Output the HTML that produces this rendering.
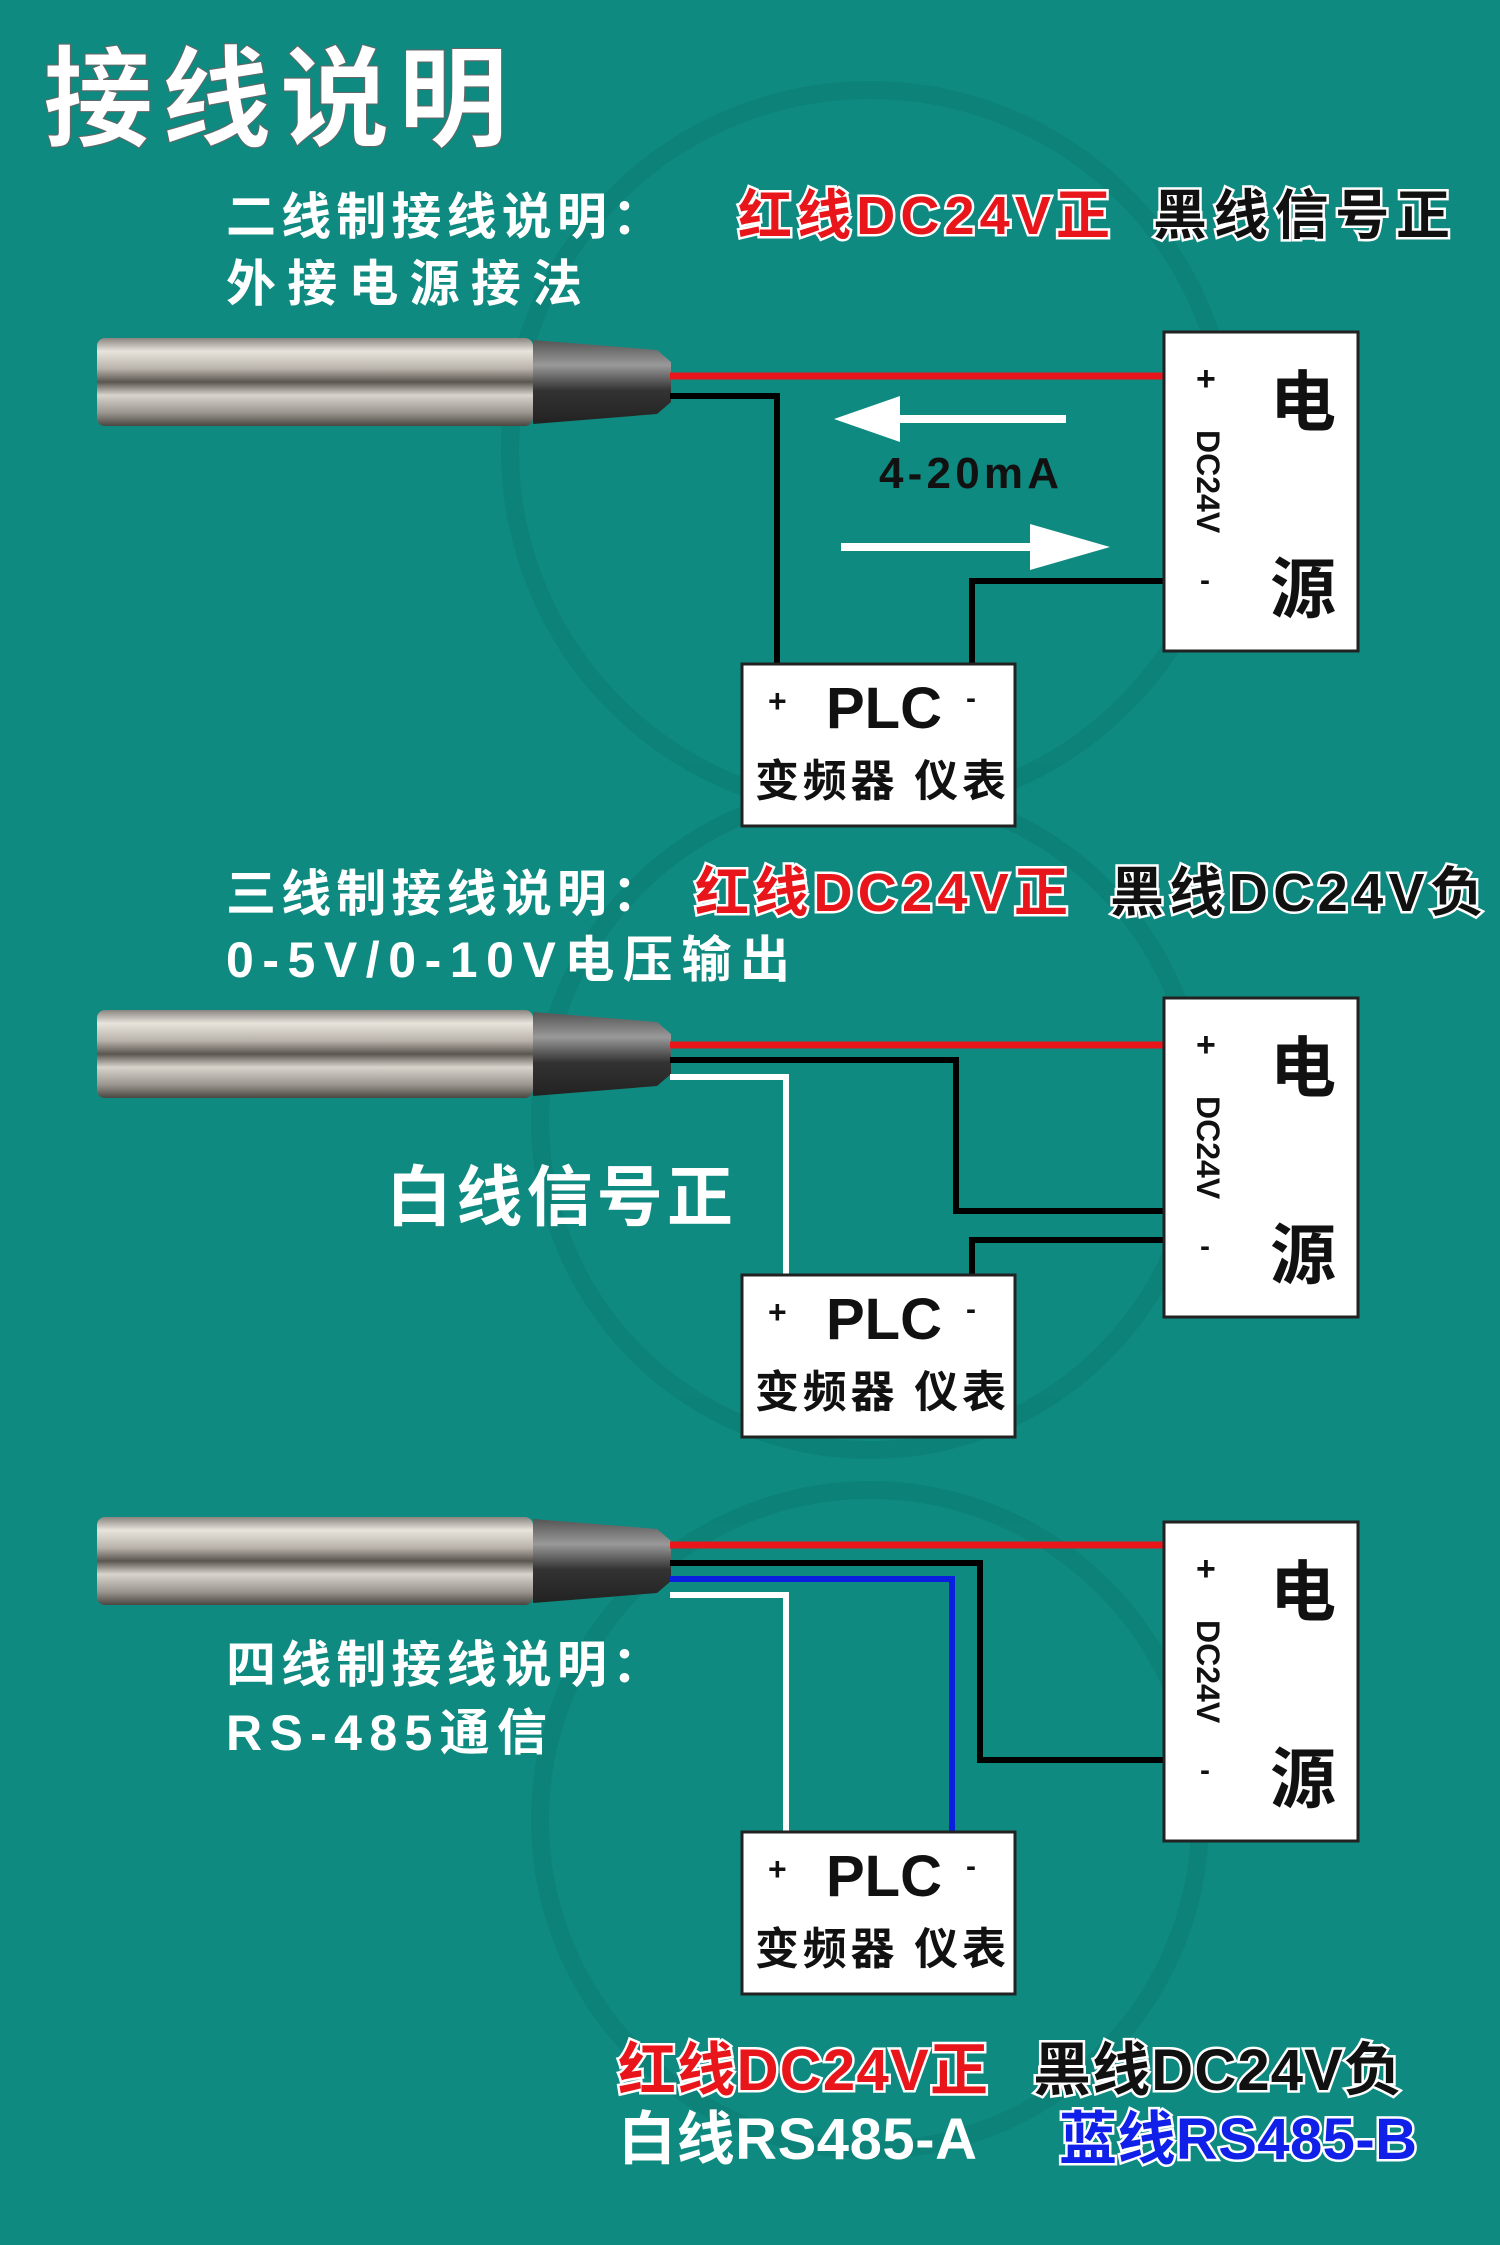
<!DOCTYPE html>
<html><head><meta charset="utf-8"><style>
html,body{margin:0;padding:0;background:#0f8a80;}
svg{display:block}
text{font-family:"Liberation Sans","Noto Sans CJK SC",sans-serif;font-weight:bold}
</style></head><body>
<svg width="1500" height="2245" viewBox="0 0 1500 2245" xmlns="http://www.w3.org/2000/svg">
<defs>
<linearGradient id="metal" x1="0" y1="0" x2="0" y2="1">
<stop offset="0" stop-color="#8a8580"/><stop offset="0.15" stop-color="#e8e4dc"/><stop offset="0.35" stop-color="#b8b2aa"/><stop offset="0.5" stop-color="#5a5550"/><stop offset="0.65" stop-color="#d8d4cc"/><stop offset="0.85" stop-color="#9a958e"/><stop offset="1" stop-color="#4a4642"/>
</linearGradient>
<linearGradient id="cone" x1="0" y1="0" x2="0" y2="1">
<stop offset="0" stop-color="#555"/><stop offset="0.3" stop-color="#999"/><stop offset="0.6" stop-color="#333"/><stop offset="1" stop-color="#222"/>
</linearGradient>
<g id="probe">
<rect x="0" y="0" width="436" height="88" rx="8" fill="url(#metal)"/>
<polygon points="436,2 560,12 574,24 574,64 560,76 436,86" fill="url(#cone)"/>
</g>
</defs>
<rect width="1500" height="2245" fill="#0f8a80"/>
<g fill="none" stroke="#0c8077" stroke-width="18" opacity="0.8">
<circle cx="870" cy="450" r="360"/>
<circle cx="870" cy="1120" r="330"/>
<circle cx="870" cy="1820" r="330"/>
</g>
<text x="43" y="138" font-size="110" fill="#fff" stroke="#666" stroke-width="1" textLength="465" lengthAdjust="spacing">接线说明</text>

<!-- Section 1 -->
<text x="226" y="234" font-size="50" fill="#fff" textLength="436" lengthAdjust="spacing">二线制接线说明：</text>
<text x="226" y="301" font-size="50" fill="#fff" textLength="356" lengthAdjust="spacing">外接电源接法</text>
<text x="738" y="234" font-size="54" fill="#e8161a" stroke="#fff" stroke-width="5" paint-order="stroke" textLength="372" lengthAdjust="spacing">红线DC24V正</text>
<text x="1153" y="234" font-size="54" fill="#111" stroke="#fff" stroke-width="5" paint-order="stroke" textLength="297" lengthAdjust="spacing">黑线信号正</text>
<use href="#probe" x="97" y="338"/>
<polyline points="670,376 1163,376" stroke="#e8161a" stroke-width="7" fill="none"/>
<polyline points="670,396 777,396 777,663" stroke="#000" stroke-width="6" fill="none"/>
<polyline points="1163,581 972,581 972,663" stroke="#000" stroke-width="6" fill="none"/>
<line x1="1066" y1="419" x2="900" y2="419" stroke="#fff" stroke-width="8"/>
<polygon points="834,419 900,396 900,442" fill="#fff"/>
<line x1="841" y1="547" x2="1040" y2="547" stroke="#fff" stroke-width="8"/>
<polygon points="1110,547 1030,524 1030,570" fill="#fff"/>
<text x="879" y="488" font-size="44" fill="#111" textLength="180" lengthAdjust="spacing">4-20mA</text>

<!-- Section 2 -->
<text x="226" y="911" font-size="50" fill="#fff" textLength="436" lengthAdjust="spacing">三线制接线说明：</text>
<text x="226" y="977" font-size="50" fill="#fff" textLength="564" lengthAdjust="spacing">0-5V/0-10V电压输出</text>
<text x="695" y="911" font-size="54" fill="#e8161a" stroke="#fff" stroke-width="5" paint-order="stroke" textLength="373" lengthAdjust="spacing">红线DC24V正</text>
<text x="1110" y="911" font-size="54" fill="#111" stroke="#fff" stroke-width="5" paint-order="stroke" textLength="374" lengthAdjust="spacing">黑线DC24V负</text>
<use href="#probe" x="97" y="1010"/>
<polyline points="670,1045 1163,1045" stroke="#e8161a" stroke-width="7" fill="none"/>
<polyline points="670,1060 956,1060 956,1211 1163,1211" stroke="#000" stroke-width="6" fill="none"/>
<polyline points="1163,1240 972,1240 972,1275" stroke="#000" stroke-width="6" fill="none"/>
<polyline points="670,1077 786,1077 786,1275" stroke="#fff" stroke-width="6" fill="none"/>
<text x="386" y="1220" font-size="66" fill="#fff" textLength="347" lengthAdjust="spacing">白线信号正</text>

<!-- Section 3 -->
<use href="#probe" x="97" y="1517"/>
<polyline points="670,1545 1163,1545" stroke="#e8161a" stroke-width="7" fill="none"/>
<polyline points="670,1563 980,1563 980,1760 1163,1760" stroke="#000" stroke-width="6" fill="none"/>
<polyline points="670,1579 952,1579 952,1832" stroke="#0a1ee0" stroke-width="6" fill="none"/>
<polyline points="670,1595 786,1595 786,1832" stroke="#fff" stroke-width="6" fill="none"/>
<text x="226" y="1682" font-size="50" fill="#fff" textLength="436" lengthAdjust="spacing">四线制接线说明：</text>
<text x="226" y="1750" font-size="50" fill="#fff" textLength="321" lengthAdjust="spacing">RS-485通信</text>
<text x="618" y="2090" font-size="58" fill="#e8161a" stroke="#fff" stroke-width="5" paint-order="stroke" textLength="370" lengthAdjust="spacing">红线DC24V正</text>
<text x="1033" y="2090" font-size="58" fill="#111" stroke="#fff" stroke-width="5" paint-order="stroke" textLength="369" lengthAdjust="spacing">黑线DC24V负</text>
<text x="618" y="2159" font-size="58" fill="#fff" textLength="359" lengthAdjust="spacing">白线RS485-A</text>
<text x="1059" y="2159" font-size="58" fill="#1020e8" stroke="#fff" stroke-width="5" paint-order="stroke" textLength="358" lengthAdjust="spacing">蓝线RS485-B</text>

<!-- power boxes -->
<g id="pbox1">
<rect x="1164" y="332" width="194" height="319" fill="#fff" stroke="#222" stroke-width="3"/>
<text x="1196" y="390" font-size="34" fill="#111" font-weight="normal">+</text>
<text transform="translate(1197,430) rotate(90)" font-size="32" fill="#111" font-weight="normal">DC24V</text>
<text x="1200" y="590" font-size="30" fill="#111" font-weight="normal">-</text>
<text x="1270" y="425" font-size="66" fill="#111" font-weight="normal">电</text>
<text x="1270" y="612" font-size="66" fill="#111" font-weight="normal">源</text>
</g>
<use href="#pbox1" y="666"/>
<use href="#pbox1" y="1190"/>

<!-- PLC boxes -->
<g id="plc1">
<rect x="742" y="664" width="273" height="162" fill="#fff" stroke="#222" stroke-width="3"/>
<text x="768" y="712" font-size="32" fill="#111" font-weight="normal">+</text>
<text x="826" y="728" font-size="58" fill="#111">PLC</text>
<text x="966" y="708" font-size="30" fill="#111" font-weight="normal">-</text>
<text x="755" y="796" font-size="44" fill="#111" textLength="251" lengthAdjust="spacing">变频器 仪表</text>
</g>
<use href="#plc1" y="611"/>
<use href="#plc1" y="1168"/>
</svg>
</body></html>
